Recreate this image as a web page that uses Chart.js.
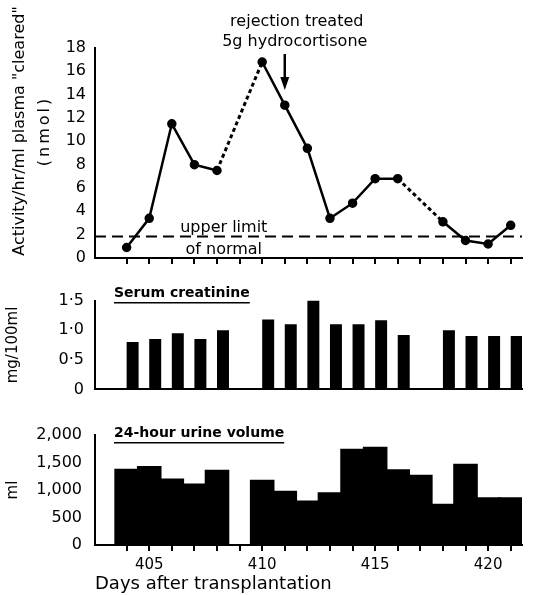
<!DOCTYPE html>
<html>
<head>
<meta charset="utf-8">
<script src="https://cdn.jsdelivr.net/npm/chart.js@4/dist/chart.umd.min.js"></script>
<style>
  html, body { margin: 0; padding: 0; background: #fff; }
  #wrap { position: relative; width: 545px; height: 595px; }
  canvas { position: absolute; left: 0; }
</style>
</head>
<body>
<div id="wrap">
  <canvas id="activity" width="545" height="280" style="top:0px"></canvas>
  <canvas id="creatinine" width="545" height="130" style="top:280px"></canvas>
  <canvas id="urine" width="545" height="185" style="top:410px"></canvas>
</div>
<script>
// Days after transplantation
const days = [404, 405, 406, 407, 408, 409, 410, 411, 412, 413, 414, 415, 416, 417, 418, 419, 420, 421];
const dayLabels = [405, 410, 415, 420];

// Activity/hr/ml plasma "cleared" (nmol); null = not measured (dotted gap)
const activity = [0.9, 3.4, 11.5, 8.0, 7.5, null, 16.8, 13.1, 9.4, 3.4, 4.7, 6.8, 6.8, null, 3.1, 1.5, 1.2, 2.8];
const upperLimitNormal = 1.85;

// Serum creatinine (mg/100ml)
const creatinine = [0.8, 0.85, 0.95, 0.85, 1.0, null, 1.18, 1.1, 1.5, 1.1, 1.1, 1.17, 0.92, null, 1.0, 0.9, 0.9, 0.9];

// 24-hour urine volume (ml)
const urine = [1370, 1420, 1190, 1100, 1350, null, 1170, 970, 790, 940, 1730, 1770, 1360, 1260, 730, 1460, 850, 850];

const FONT = "'DejaVu Sans', sans-serif";
Chart.defaults.font.family = FONT;
Chart.defaults.color = '#000';

const X_MIN = 402.6, X_MAX = 421.5;
const AXIS_LEFT = 95;
const RIGHT_PAD = 23;

// shared x axis (days); only the bottom panel shows labels
function dayAxis(opts) {
    return {
        type: 'linear',
        min: opts.min ?? X_MIN,
        max: opts.max ?? X_MAX,
        offset: false,
        afterBuildTicks: s => { s.ticks = days.map(d => ({ value: d })); },
        afterFit: s => { s.height = opts.height; },
        border: { display: true, color: '#000', width: 2 },
        grid: {
            display: opts.tickMarks,
            offset: false,
            drawOnChartArea: false,
            drawTicks: true,
            tickLength: 6,
            color: '#000',
            lineWidth: 2
        },
        ticks: {
            display: !!opts.labels,
            autoSkip: false,
            maxRotation: 0,
            padding: 5,
            font: { size: 15 },
            callback: v => dayLabels.includes(v) ? String(v) : ''
        },
        title: opts.title ? {
            display: true,
            text: opts.title,
            align: 'start',
            font: { size: 18 },
            padding: { top: 0, bottom: 0 }
        } : { display: false }
    };
}

function valueAxis(max, step, fmt, fontSize, pad, title) {
    return {
        min: 0,
        max: max,
        afterFit: s => { s.width = AXIS_LEFT; },
        border: { display: true, color: '#000', width: 2 },
        grid: { display: false, drawTicks: false },
        ticks: { stepSize: step, padding: pad, font: { size: fontSize }, callback: fmt },
        title: title ? { display: true, text: title, font: { size: 15 }, padding: { top: 4, bottom: 0 } } : { display: false }
    };
}

// a segment touching a missing day is drawn dotted
const isGap = c => !!(c.p0.skip || c.p1.skip);

// annotations for the top panel
const activityNotes = {
    id: 'activityNotes',
    afterDraw(chart) {
        const { ctx, scales: { x, y } } = chart;
        ctx.save();
        ctx.fillStyle = '#000';
        ctx.strokeStyle = '#000';
        ctx.textAlign = 'center';
        ctx.textBaseline = 'middle';
        ctx.font = `16px ${FONT}`;

        const ax = x.getPixelForValue(411);
        ctx.fillText('rejection treated', ax + 12, 22);
        ctx.fillText('5g hydrocortisone', ax + 10, 42);
        ctx.lineWidth = 2.5;
        ctx.beginPath();
        ctx.moveTo(ax, 54);
        ctx.lineTo(ax, 80);
        ctx.stroke();
        ctx.beginPath();
        ctx.moveTo(ax - 4.5, 77);
        ctx.lineTo(ax + 4.5, 77);
        ctx.lineTo(ax, 90);
        ctx.closePath();
        ctx.fill();

        const ux = x.getPixelForValue(408.3);
        const uy = y.getPixelForValue(upperLimitNormal);
        ctx.fillText('upper limit', ux, uy - 9);
        ctx.fillText('of normal', ux, uy + 13);

        // y axis title, two lines
        ctx.translate(20, 131);
        ctx.rotate(-Math.PI / 2);
        ctx.fillText('Activity/hr/ml plasma "cleared"', 0, 0);
        ctx.letterSpacing = '3px';
        ctx.fillText('(nmol)', 0, 25);
        ctx.restore();
    }
};

// underlined panel heading
function headingPlugin(id, text, ty) {
    return {
        id: id,
        afterDraw(chart) {
            const { ctx } = chart;
            ctx.save();
            ctx.fillStyle = '#000';
            ctx.font = `bold 14px ${FONT}`;
            ctx.textBaseline = 'middle';
            ctx.textAlign = 'left';
            const x0 = 114;
            ctx.fillText(text, x0, ty);
            const w = ctx.measureText(text).width;
            ctx.fillRect(x0, ty + 9, w, 1.5);
            ctx.restore();
        }
    };
}

new Chart(document.getElementById('activity'), {
    type: 'line',
    data: {
        datasets: [
            {
                label: 'Activity',
                data: days.map((d, i) => ({ x: d, y: activity[i] })),
                borderColor: '#000',
                backgroundColor: '#000',
                borderWidth: 2.5,
                pointRadius: 3.5,
                pointBackgroundColor: '#000',
                spanGaps: true,
                tension: 0,
                segment: {
                    borderDash: c => (isGap(c) ? [4, 3] : undefined),
                    borderWidth: c => (isGap(c) ? 3 : undefined)
                }
            },
            {
                label: 'Upper limit of normal',
                data: [{ x: X_MIN, y: upperLimitNormal }, { x: X_MAX, y: upperLimitNormal }],
                borderColor: '#000',
                borderWidth: 2,
                borderDash: [11, 6],
                pointRadius: 0
            }
        ]
    },
    options: {
        responsive: false,
        animation: false,
        layout: { padding: { top: 48, right: RIGHT_PAD, left: 0, bottom: 0 } },
        scales: {
            x: dayAxis({ height: 22, tickMarks: true }),
            y: valueAxis(18, 2, v => String(v), 16, 9)
        },
        plugins: { legend: { display: false }, tooltip: { enabled: false } }
    },
    plugins: [activityNotes]
});

// creatinine bars sit just right of each day tick, so this axis is shifted a quarter day
const CREAT_SHIFT = 0.265;
new Chart(document.getElementById('creatinine'), {
    type: 'bar',
    data: {
        datasets: [{
            label: 'Serum creatinine',
            data: days.map((d, i) => ({ x: d, y: creatinine[i] })),
            backgroundColor: '#000',
            borderWidth: 0,
            barPercentage: 0.53,
            categoryPercentage: 1
        }]
    },
    options: {
        responsive: false,
        animation: false,
        layout: { padding: { top: 16.5, right: RIGHT_PAD, left: 0, bottom: 0 } },
        scales: {
            x: dayAxis({ height: 10.7, tickMarks: false, min: X_MIN - CREAT_SHIFT, max: X_MAX - CREAT_SHIFT }),
            y: valueAxis(1.5, 0.5, v => (v === 0 ? '0' : v.toFixed(1).replace('.', '·')), 16, 11, 'mg/100ml')
        },
        plugins: { legend: { display: false }, tooltip: { enabled: false } }
    },
    plugins: [headingPlugin('creatHeading', 'Serum creatinine', 13)]
});

new Chart(document.getElementById('urine'), {
    type: 'bar',
    data: {
        datasets: [{
            label: '24-hour urine volume',
            data: days.map((d, i) => ({ x: d, y: urine[i] })),
            backgroundColor: '#000',
            borderWidth: 0,
            inflateAmount: 1,
            barPercentage: 1,
            categoryPercentage: 1
        }]
    },
    options: {
        responsive: false,
        animation: false,
        layout: { padding: { top: 25, right: RIGHT_PAD, left: 0, bottom: 0 } },
        scales: {
            x: dayAxis({ height: 50, tickMarks: true, labels: true, title: 'Days after transplantation' }),
            y: valueAxis(2000, 500, v => v.toLocaleString('en-US'), 16, 13, 'ml')
        },
        plugins: { legend: { display: false }, tooltip: { enabled: false } }
    },
    plugins: [headingPlugin('urineHeading', '24-hour urine volume', 23)]
});
</script>
</body>
</html>
